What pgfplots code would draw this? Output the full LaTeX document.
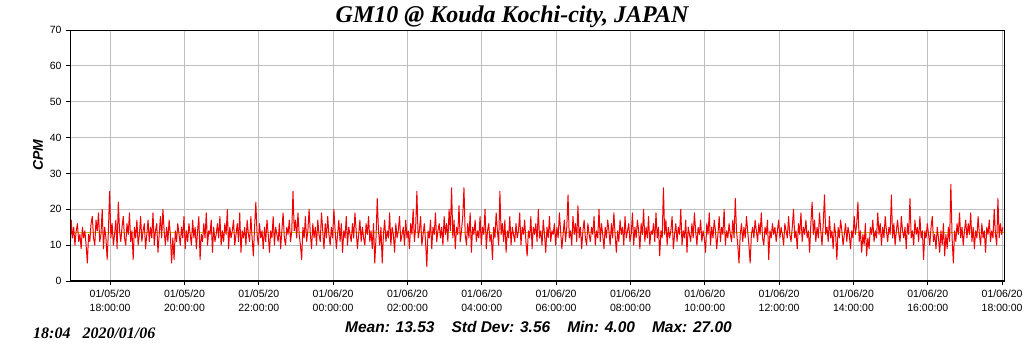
\documentclass[border=0pt]{standalone}
\usepackage{fontspec}
\setmainfont{Liberation Serif}
\setsansfont{Liberation Sans}
\usepackage{pgfplots}
\usepackage{pgfplotstable}
\pgfplotsset{compat=1.18}
\definecolor{meancol}{RGB}{200,190,0}
\definecolor{gridcol}{RGB}{190,190,190}
\definecolor{cpmred}{RGB}{240,0,0}

\pgfplotstableread[row sep=\\]{
y\\
7\\17\\12\\15\\10\\14\\16\\11\\13\\9\\15\\12\\14\\10\\5\\13\\11\\16\\18\\12\\10\\17\\14\\19\\11\\13\\20\\9\\15\\12\\
6\\14\\25\\12\\16\\10\\13\\17\\9\\22\\14\\11\\15\\18\\12\\10\\16\\13\\19\\11\\14\\6\\15\\12\\17\\10\\13\\18\\11\\14\\
16\\9\\13\\17\\11\\15\\12\\19\\10\\14\\16\\8\\13\\18\\12\\20\\14\\10\\15\\11\\17\\13\\5\\12\\6\\14\\11\\16\\13\\10\\
15\\12\\18\\9\\14\\11\\16\\13\\10\\17\\12\\15\\9\\14\\18\\6\\13\\11\\16\\12\\19\\10\\14\\13\\17\\8\\15\\11\\13\\16\\
12\\18\\10\\14\\11\\16\\13\\20\\9\\15\\12\\14\\17\\10\\13\\16\\11\\19\\8\\14\\12\\15\\10\\17\\13\\11\\18\\12\\7\\15\\
22\\13\\10\\16\\12\\14\\9\\15\\11\\17\\13\\8\\14\\12\\18\\10\\15\\13\\11\\16\\9\\14\\19\\12\\10\\15\\13\\17\\11\\14\\
25\\14\\17\\12\\19\\13\\10\\6\\15\\12\\18\\11\\14\\20\\13\\9\\16\\12\\15\\10\\17\\13\\11\\19\\14\\9\\16\\12\\18\\13\\
10\\15\\12\\20\\14\\9\\13\\17\\11\\16\\8\\14\\12\\18\\10\\15\\13\\11\\16\\12\\19\\14\\9\\13\\17\\11\\15\\12\\10\\16\\
13\\18\\11\\14\\9\\16\\5\\12\\23\\14\\10\\15\\5\\13\\17\\11\\14\\12\\19\\10\\15\\13\\8\\16\\12\\14\\18\\11\\13\\15\\
10\\17\\12\\14\\9\\16\\13\\20\\11\\15\\25\\12\\14\\18\\10\\13\\16\\11\\4\\14\\12\\17\\9\\15\\13\\19\\11\\14\\16\\12\\
15\\10\\18\\13\\16\\11\\20\\14\\26\\12\\17\\9\\15\\13\\21\\11\\14\\18\\26\\13\\10\\16\\12\\19\\8\\15\\13\\17\\11\\14\\
12\\18\\10\\15\\13\\20\\9\\14\\16\\11\\13\\6\\15\\12\\19\\14\\10\\25\\13\\16\\11\\17\\8\\14\\12\\18\\10\\15\\13\\11\\
16\\12\\14\\19\\10\\15\\13\\17\\11\\7\\14\\12\\18\\9\\15\\13\\16\\11\\20\\12\\14\\10\\17\\13\\8\\15\\12\\18\\11\\14\\
13\\16\\10\\15\\12\\19\\14\\9\\13\\17\\11\\15\\24\\12\\14\\10\\18\\13\\16\\11\\21\\12\\15\\9\\14\\17\\12\\10\\16\\13\\
11\\15\\13\\18\\10\\14\\12\\20\\11\\16\\13\\9\\15\\12\\17\\14\\10\\16\\12\\19\\13\\8\\14\\11\\17\\13\\15\\10\\18\\12\\
14\\16\\11\\13\\19\\10\\15\\12\\17\\14\\9\\16\\13\\20\\11\\15\\12\\18\\10\\14\\13\\16\\11\\19\\12\\15\\7\\14\\12\\26\\
13\\17\\10\\15\\12\\14\\18\\9\\13\\16\\11\\15\\13\\20\\10\\14\\12\\17\\8\\15\\13\\11\\16\\12\\19\\14\\10\\15\\13\\17\\
11\\14\\12\\8\\16\\13\\19\\10\\15\\12\\17\\14\\9\\13\\18\\11\\15\\13\\20\\10\\14\\12\\16\\13\\11\\17\\12\\23\\14\\10\\
5\\13\\16\\11\\15\\12\\18\\14\\10\\5\\13\\15\\12\\17\\14\\11\\16\\13\\19\\12\\10\\15\\13\\17\\6\\14\\12\\16\\13\\15\\
11\\14\\17\\12\\15\\13\\10\\16\\14\\12\\18\\13\\11\\15\\20\\12\\14\\9\\16\\13\\19\\11\\15\\13\\17\\12\\14\\8\\16\\22\\
13\\17\\11\\15\\12\\19\\14\\10\\16\\24\\13\\15\\11\\18\\12\\14\\9\\16\\13\\6\\15\\12\\17\\14\\10\\13\\16\\11\\15\\13\\
9\\14\\12\\18\\13\\16\\22\\11\\14\\8\\13\\10\\16\\7\\12\\9\\15\\13\\17\\11\\14\\12\\19\\13\\16\\10\\15\\12\\18\\14\\
11\\15\\13\\24\\12\\16\\10\\14\\17\\13\\11\\18\\14\\12\\15\\9\\16\\13\\23\\12\\14\\10\\17\\13\\15\\11\\18\\12\\14\\6\\
14\\12\\16\\13\\10\\15\\18\\11\\13\\9\\15\\12\\8\\14\\10\\16\\7\\13\\9\\15\\11\\27\\12\\5\\14\\11\\16\\13\\19\\12\\
15\\10\\14\\17\\12\\16\\13\\19\\11\\15\\9\\14\\12\\18\\13\\10\\16\\12\\14\\8\\15\\13\\17\\11\\14\\12\\20\\13\\10\\23\\
12\\16\\13\\15\\
}\cpmdata

\begin{document}
\begin{tikzpicture}
\begin{axis}[
  scale only axis,
  width=934pt, height=251pt,
  xmin=16.92, xmax=42.05,
  ymin=0, ymax=70,
  ytick={0,10,...,70},
  xtick={18,20,...,42},
  xticklabels={
    {01/05/20\\18:00:00},{01/05/20\\20:00:00},{01/05/20\\22:00:00},
    {01/06/20\\00:00:00},{01/06/20\\02:00:00},{01/06/20\\04:00:00},
    {01/06/20\\06:00:00},{01/06/20\\08:00:00},{01/06/20\\10:00:00},
    {01/06/20\\12:00:00},{01/06/20\\14:00:00},{01/06/20\\16:00:00},
    {01/06/20\\18:00:00}},
  xtick pos=bottom, ytick pos=left,
  tick align=outside,
  major tick length=4pt,
  tick style={black, line width=0.8pt},
  grid=major,
  grid style={gridcol, line width=0.8pt},
  axis line style={black, line width=0.9pt},
  /pgf/number format/assume math mode=true,
  tick label style={font=\sffamily\fontsize{10.5}{14}\selectfont},
  x tick label style={align=center, yshift=-1pt},
  y tick label style={xshift=-1pt},
]
\addplot[meancol, line width=0.9pt] coordinates {(16.92,13.53) (42.05,13.53)};
\addplot[cpmred, line width=1.0pt, line join=round] table[x expr=16.92+\coordindex/30, y index=0] {\cpmdata};
\draw[black, line width=2.4pt] (rel axis cs:0,1) -- (rel axis cs:0,0) -- (rel axis cs:1,0);
\coordinate (bl) at (rel axis cs:0,0);
\coordinate (tr) at (rel axis cs:1,1);
\end{axis}
\node[anchor=base, font=\rmfamily\bfseries\itshape\fontsize{24}{28}\selectfont, inner sep=0pt]
  at ([xshift=442pt,yshift=258pt]bl) {GM10 @ Kouda Kochi-city, JAPAN};
\node[rotate=90, font=\sffamily\bfseries\itshape\fontsize{14}{16}\selectfont, inner sep=0pt]
  at ([xshift=-32pt,yshift=126pt]bl) {CPM};
\node[anchor=base west, font=\sffamily\bfseries\itshape\fontsize{15.5}{18}\selectfont, inner sep=0pt]
  at ([xshift=275pt,yshift=-51.7pt]bl) {Mean: 13.53\hspace{17pt}Std Dev: 3.56\hspace{17pt}Min: 4.00\hspace{17pt}Max: 27.00};
\node[anchor=base west, font=\rmfamily\bfseries\itshape\fontsize{16}{18}\selectfont, inner sep=0pt]
  at ([xshift=-37pt,yshift=-57.3pt]bl) {18:04\hspace{12pt}2020/01/06};
\pgfresetboundingbox
\path[use as bounding box] ([xshift=-70pt,yshift=-70pt]bl) rectangle ([xshift=20pt,yshift=30pt]tr);
\end{tikzpicture}
\end{document}
